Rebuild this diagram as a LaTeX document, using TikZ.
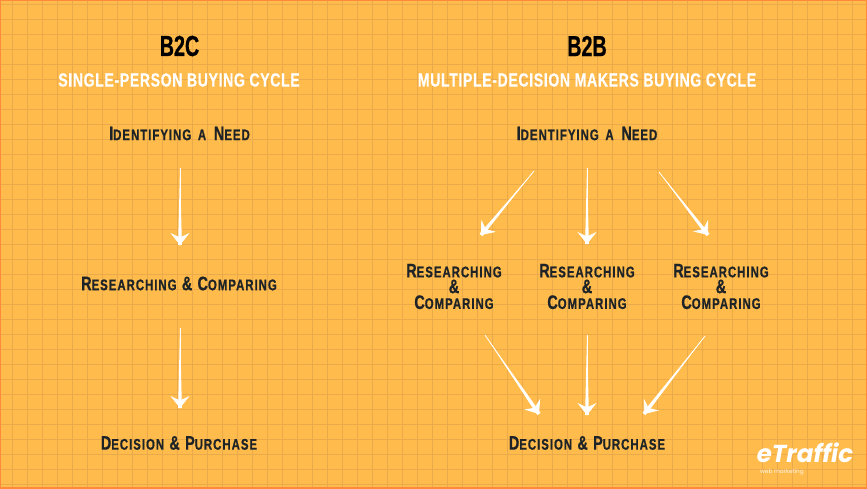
\documentclass[tikz,border=0pt]{standalone}
\usepackage{fontspec}
\usetikzlibrary{arrows.meta,calc}
\newfontfamily\titlefont[FakeStretch=0.68,FakeBold=0.6]{Liberation Sans Bold}
\newfontfamily\subfont[FakeStretch=0.74,FakeBold=0.4,LetterSpace=3.4]{Liberation Sans Bold}
\newfontfamily\stepfont[FakeStretch=0.74,FakeBold=0.7,LetterSpace=6.5]{Liberation Sans Bold}
\newfontfamily\logofont{Poppins Bold Italic}
\newfontfamily\logosmall{Poppins}
\definecolor{bgc}{HTML}{FFBB4B}
\definecolor{gridc}{HTML}{EAAA4C}
\definecolor{edgec}{HTML}{FF8A3C}
\definecolor{inkc}{HTML}{1E2327}
\newcommand{\sm}[1]{{\fontsize{15.4pt}{16pt}\selectfont\uppercase{#1}}}
\newcommand{\taper}[2]{\fill[white] (#1) -- ($(#2)!1.9pt!90:(#1)$) -- ($(#2)!1.9pt!-90:(#1)$) -- cycle;}
\tikzset{
  x=1pt,y=-1pt,
  title/.style={font=\titlefont\fontsize{29pt}{30pt}\selectfont,text=black,inner sep=0pt},
  sub/.style={font=\subfont\fontsize{19pt}{21pt}\selectfont,text=white,inner sep=0pt},
  step text/.style={font=\stepfont\fontsize{19.5pt}{15.8pt}\selectfont,text=inkc,inner sep=0pt,align=center},
  conn/.style={draw=white,line width=0.7pt,-{Stealth[length=12pt,width=19pt,inset=4.5pt,fill=white]}}
}
\begin{document}
\begin{tikzpicture}
\useasboundingbox (0,0) rectangle (867,488);
\fill[bgc] (0,0) rectangle (867,488);
\foreach \i in {0,...,57}{\draw[gridc,line width=1pt] ({12.7+15*\i},0) -- ({12.7+15*\i},488);}
\foreach \j in {0,...,32}{\draw[gridc,line width=1pt] (0,{4+15*\j}) -- (867,{4+15*\j});}
\draw[edgec,line width=2.4pt] (0,0) rectangle (867,488);

\node[title] (b2c) at (179.5,46) {B2C};
\node[sub] (b2csub) at (179,80) {SINGLE-PERSON BUYING CYCLE};
\node[title] (b2b) at (587,46) {B2B};
\node[sub] (b2bsub) at (587,80) {MULTIPLE-DECISION MAKERS BUYING CYCLE};

\node[step text] (cneed) at (179.5,133.5) {I\sm{dentifying\hspace{2.5pt} a\hspace{2.5pt}} N\sm{eed}};
\node[step text] (cres) at (179,283.5) {R\sm{esearching} \& C\sm{omparing}};
\node[step text] (cdec) at (179,443) {D\sm{ecision} \& P\sm{urchase}};
\node[step text] (bneed) at (587,133.5) {I\sm{dentifying\hspace{2.5pt} a\hspace{2.5pt}} N\sm{eed}};
\node[step text] (bres1) at (454,286.5) {R\sm{esearching}\\\&\\C\sm{omparing}};
\node[step text] (bres2) at (587,286.5) {R\sm{esearching}\\\&\\C\sm{omparing}};
\node[step text] (bres3) at (721,286.5) {R\sm{esearching}\\\&\\C\sm{omparing}};
\node[step text] (bdec) at (587,443) {D\sm{ecision} \& P\sm{urchase}};

\coordinate (c1s) at (180,168); \coordinate (c1e) at (180,245);
\coordinate (c2s) at (180,328); \coordinate (c2e) at (180,408);
\coordinate (b1s) at (534,171); \coordinate (b1e) at (481,235);
\coordinate (b2s) at (587,168); \coordinate (b2e) at (587,244);
\coordinate (b3s) at (659,172); \coordinate (b3e) at (708,235);
\coordinate (b4s) at (485,335); \coordinate (b4e) at (539,414);
\coordinate (b5s) at (587,335); \coordinate (b5e) at (587,415);
\coordinate (b6s) at (705,336); \coordinate (b6e) at (644,414);
\foreach \a/\b in {c1s/c1e,c2s/c2e,b1s/b1e,b2s/b2e,b3s/b3e,b4s/b4e,b5s/b5e,b6s/b6e}{
  \taper{\a}{\b}
  \draw[conn] (\a) -- (\b);
}
\node[text=white,inner sep=0pt,font=\logofont\fontsize{24.5pt}{26pt}\selectfont] (logo) at (805,453) {eTraffic};
\node[text=white!85!bgc,inner sep=0pt,font=\logosmall\fontsize{5.8pt}{6pt}\selectfont] (logosub) at (782,472) {web marketing};
\end{tikzpicture}
\end{document}
